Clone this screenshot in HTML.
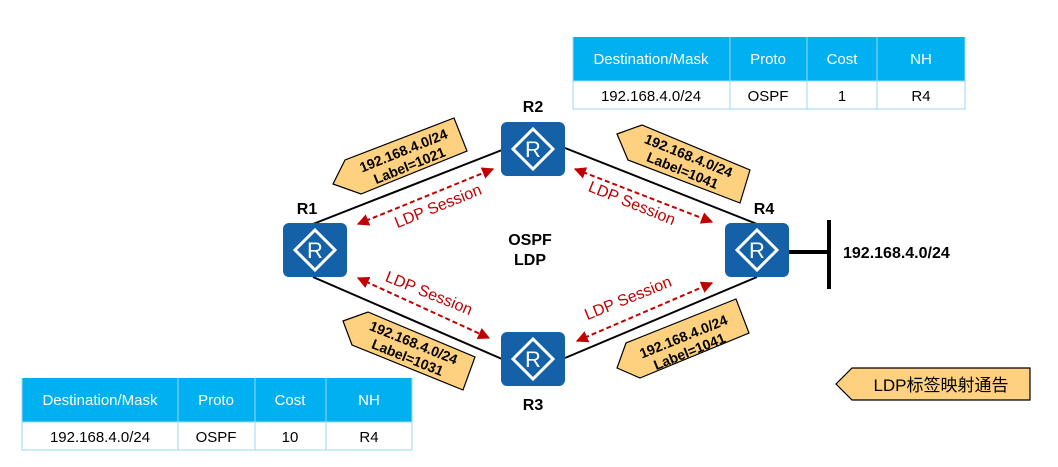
<!DOCTYPE html>
<html><head><meta charset="utf-8"><style>
html,body{margin:0;padding:0;background:#fff;}
svg{display:block;}
text{font-family:"Liberation Sans","Noto Sans CJK SC",sans-serif;}
</style></head><body>
<svg width="1058" height="467" viewBox="0 0 1058 467" xmlns="http://www.w3.org/2000/svg">
<defs>
<marker id="ah" viewBox="0 0 10 10" refX="9" refY="5" markerWidth="6" markerHeight="6" orient="auto-start-reverse">
<path d="M0,0 L10,5 L0,10 z" fill="#c00000"/></marker>
<g id="rt">
<rect x="0" y="0" width="64" height="54" rx="6" fill="#1461a8"/>
<polygon points="32,7 52,27 32,47 12,27" fill="none" stroke="#fff" stroke-width="3"/>
<text x="32" y="35" font-size="22" fill="#fff" text-anchor="middle">R</text>
</g>
</defs>

<g stroke="#000" stroke-width="2">
<line x1="313" y1="224" x2="502" y2="150"/>
<line x1="565" y1="148" x2="757" y2="224"/>
<line x1="313" y1="277" x2="502" y2="359"/>
<line x1="565" y1="358" x2="757" y2="277"/>
</g>
<line x1="789" y1="252" x2="829" y2="252" stroke="#000" stroke-width="4"/>
<line x1="829" y1="220" x2="829" y2="289" stroke="#000" stroke-width="4"/>

<g stroke="#c00000" stroke-width="2" stroke-dasharray="5,3" marker-start="url(#ah)" marker-end="url(#ah)">
<line x1="358" y1="224" x2="493" y2="169"/>
<line x1="575" y1="169" x2="712" y2="222"/>
<line x1="358" y1="278" x2="489" y2="338"/>
<line x1="577" y1="341" x2="712" y2="283"/>
</g>
<g fill="#c00000" font-size="16">
<text transform="translate(440,211) rotate(-22)" text-anchor="middle">LDP Session</text>
<text transform="translate(630,208) rotate(22)" text-anchor="middle">LDP Session</text>
<text transform="translate(427,298) rotate(22)" text-anchor="middle">LDP Session</text>
<text transform="translate(630,303) rotate(-22)" text-anchor="middle">LDP Session</text>
</g>

<g fill="#fdd17f" stroke="#000" stroke-width="1.2">
<polygon points="333,184 345,160 454,118 467,151 361,194"/>
<polygon points="617,134 642,125 750,170 740,203 628,160"/>
<polygon points="343,321 368,312 475,357 463,390 352,345"/>
<polygon points="617,368 640,378 749,333 736,299 626,343"/>
<polygon points="836,384 852,368 1030,368 1030,400 852,400"/>
</g>
<g font-size="14" font-weight="bold" fill="#000" text-anchor="middle">
<g transform="translate(406,157) rotate(-22)"><text y="-2">192.168.4.0/24</text><text y="14">Label=1021</text></g>
<g transform="translate(686,162) rotate(22)"><text y="-2">192.168.4.0/24</text><text y="14">Label=1041</text></g>
<g transform="translate(411,349) rotate(22)"><text y="-2">192.168.4.0/24</text><text y="14">Label=1031</text></g>
<g transform="translate(686,343) rotate(-22)"><text y="-2">192.168.4.0/24</text><text y="14">Label=1041</text></g>
</g>
<text x="941" y="391" font-size="17" text-anchor="middle" fill="#000">LDP标签映射通告</text>

<use href="#rt" x="283" y="223"/>
<use href="#rt" x="501" y="122"/>
<use href="#rt" x="725" y="223"/>
<use href="#rt" x="501" y="332"/>
<g font-size="16" font-weight="bold" fill="#000" text-anchor="middle">
<text x="307" y="214">R1</text>
<text x="533" y="112">R2</text>
<text x="764" y="214">R4</text>
<text x="533" y="410">R3</text>
<text x="530" y="245">OSPF</text>
<text x="530" y="265">LDP</text>
</g>
<text x="843" y="258" font-size="16" font-weight="bold" fill="#000">192.168.4.0/24</text>

<g>
<rect x="573" y="37" width="392" height="44" fill="#00b0f0"/>
<rect x="573" y="81" width="392" height="28" fill="#fff" stroke="#9dd7f2" stroke-width="1"/>
<g stroke="#9dd7f2" stroke-width="1">
<line x1="730" y1="37" x2="730" y2="109"/><line x1="807" y1="37" x2="807" y2="109"/><line x1="877" y1="37" x2="877" y2="109"/>
<line x1="573" y1="37" x2="573" y2="109"/><line x1="965" y1="37" x2="965" y2="109"/>
</g>
<g font-size="15" fill="#fff" text-anchor="middle">
<text x="651" y="64">Destination/Mask</text><text x="768" y="64">Proto</text><text x="842" y="64">Cost</text><text x="921" y="64">NH</text>
</g>
<g font-size="15" fill="#000" text-anchor="middle">
<text x="651" y="101">192.168.4.0/24</text><text x="768" y="101">OSPF</text><text x="842" y="101">1</text><text x="921" y="101">R4</text>
</g>
</g>

<g>
<rect x="22" y="378" width="390" height="44" fill="#00b0f0"/>
<rect x="22" y="422" width="390" height="28" fill="#fff" stroke="#9dd7f2" stroke-width="1"/>
<g stroke="#9dd7f2" stroke-width="1">
<line x1="178" y1="378" x2="178" y2="450"/><line x1="255" y1="378" x2="255" y2="450"/><line x1="326" y1="378" x2="326" y2="450"/>
<line x1="22" y1="378" x2="22" y2="450"/><line x1="412" y1="378" x2="412" y2="450"/>
</g>
<g font-size="15" fill="#fff" text-anchor="middle">
<text x="100" y="405">Destination/Mask</text><text x="216" y="405">Proto</text><text x="290" y="405">Cost</text><text x="369" y="405">NH</text>
</g>
<g font-size="15" fill="#000" text-anchor="middle">
<text x="100" y="442">192.168.4.0/24</text><text x="216" y="442">OSPF</text><text x="290" y="442">10</text><text x="369" y="442">R4</text>
</g>
</g>
</svg>
</body></html>
